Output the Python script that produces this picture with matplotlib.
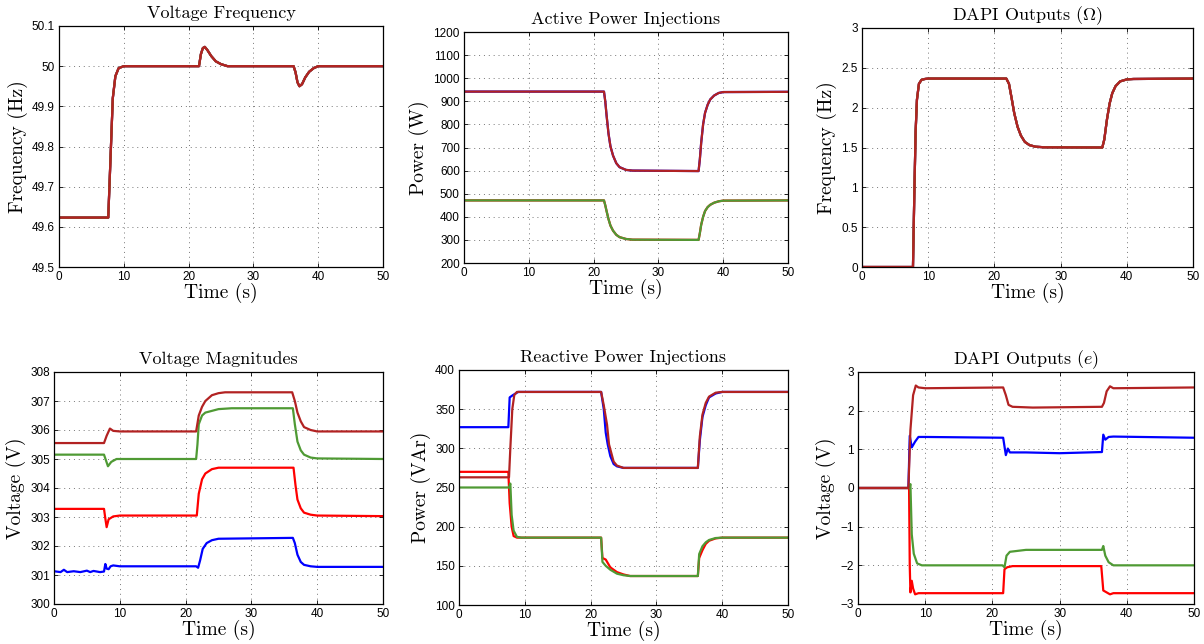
import numpy as np
import matplotlib
matplotlib.use("Agg")
import matplotlib.pyplot as plt

plt.rcParams['mathtext.fontset'] = 'cm'
plt.rcParams['axes.unicode_minus'] = True

BLUE = '#0000ff'
RED = '#ff0000'
GREEN = '#4f9a34'
DRED = '#b22222'

# ---- Voltage Frequency (all units overlap) ----
f_t = [0, 7.6, 7.9, 8.3, 8.7, 9.2, 10, 21.6, 21.9, 22.2, 22.5, 22.9, 23.5, 24.2, 25, 26, 36.2, 36.5, 36.8, 37.1, 37.5, 38, 38.6, 39.3, 40, 50]
f_v = [49.623, 49.623, 49.75, 49.92, 49.975, 49.995, 50.0, 50.0, 50.03, 50.045, 50.048, 50.04, 50.025, 50.012, 50.005, 50.0, 50.0, 49.985, 49.96, 49.95, 49.955, 49.972, 49.986, 49.995, 50.0, 50.0]

# ---- Active power ----
p_t = [0, 21.6, 21.8, 22.0, 22.3, 22.6, 23.0, 23.5, 24.0, 25.0, 26.0, 36.2, 36.4, 36.6, 36.9, 37.2, 37.6, 38.0, 38.6, 39.3, 40.0, 50]
p_hi = [942, 942, 900, 840, 760, 705, 665, 632, 615, 603, 600, 598, 650, 720, 800, 850, 885, 908, 925, 936, 940, 941]
p_lo = [471, 471, 450, 425, 390, 362, 340, 322, 312, 304, 301, 300, 330, 365, 400, 425, 442, 452, 461, 467, 470, 471]

# ---- DAPI outputs (Omega) ----
w_t = [0, 7.7, 7.9, 8.1, 8.3, 8.6, 9.0, 9.5, 10, 21.8, 22.2, 22.6, 23.0, 23.5, 24.0, 24.6, 25.3, 26.2, 27.5, 36.3, 36.6, 37.0, 37.4, 37.8, 38.3, 39.0, 40.0, 41.0, 50]
w_v = [0, 0, 0.9, 1.7, 2.1, 2.3, 2.35, 2.36, 2.365, 2.365, 2.3, 2.12, 1.93, 1.76, 1.65, 1.57, 1.53, 1.51, 1.503, 1.5, 1.6, 1.85, 2.05, 2.18, 2.27, 2.33, 2.355, 2.36, 2.365]

# ---- Voltage magnitudes ----
v1_t = [0, 1, 1.5, 2, 3, 4, 5, 5.5, 6, 7, 7.6, 7.8, 8.0, 8.3, 8.6, 9.0, 10, 21.6, 21.9, 22.2, 22.6, 23.2, 24, 25, 36.3, 36.6, 37.0, 37.5, 38, 39, 40, 50]
v1_v = [301.13, 301.1, 301.18, 301.1, 301.13, 301.1, 301.15, 301.1, 301.14, 301.1, 301.12, 301.38, 301.22, 301.2, 301.3, 301.33, 301.3, 301.3, 301.25, 301.5, 301.9, 302.1, 302.2, 302.25, 302.28, 302.1, 301.7, 301.45, 301.35, 301.3, 301.28, 301.28]
v2_t = [0, 7.6, 7.8, 8.0, 8.3, 9.0, 10, 21.7, 22.0, 22.5, 23.0, 24.0, 25.0, 36.4, 36.7, 37.0, 37.5, 38.0, 39.0, 40.0, 50]
v2_v = [303.28, 303.28, 302.95, 302.65, 302.92, 303.02, 303.05, 303.05, 303.8, 304.3, 304.5, 304.65, 304.7, 304.7, 304.1, 303.6, 303.3, 303.15, 303.08, 303.05, 303.03]
v3_t = [0, 7.6, 7.9, 8.2, 8.7, 9.5, 21.6, 21.8, 22.0, 22.5, 23.0, 25.0, 27.0, 36.3, 36.6, 37.0, 37.5, 38.0, 39.0, 40.0, 50]
v3_v = [305.15, 305.15, 304.95, 304.75, 304.9, 305.0, 305.0, 305.5, 306.2, 306.5, 306.6, 306.72, 306.75, 306.75, 306.2, 305.6, 305.3, 305.15, 305.05, 305.02, 305.0]
v4_t = [0, 7.6, 8.0, 8.5, 9.0, 10, 21.6, 22.0, 22.5, 23.0, 24.0, 25.0, 26.0, 36.2, 36.6, 37.0, 37.5, 38.0, 39.0, 40.0, 50]
v4_v = [305.55, 305.55, 305.8, 306.05, 305.97, 305.95, 305.95, 306.5, 306.8, 307.0, 307.2, 307.27, 307.3, 307.3, 307.0, 306.6, 306.3, 306.1, 306.0, 305.95, 305.95]

# ---- Reactive power ----
q1_t = [0, 7.5, 7.7, 8.2, 8.6, 9.0, 21.6, 22.0, 22.3, 22.6, 23.0, 23.5, 24.0, 25.0, 36.3, 36.6, 37.0, 37.5, 38.0, 39.0, 40.0, 50]
q1_v = [327, 327, 365, 368, 370, 372, 372, 350, 320, 305, 290, 280, 277, 275, 275, 310, 340, 355, 365, 370, 372, 372]
q4_t = [0, 7.6, 7.8, 8.1, 8.4, 8.8, 21.6, 22.0, 22.5, 22.8, 23.5, 24.0, 25.0, 36.3, 36.6, 37.0, 37.5, 38.0, 39.0, 40.0, 50]
q4_v = [263, 263, 300, 350, 368, 372, 372, 355, 330, 305, 283, 278, 275, 275, 315, 343, 358, 366, 371, 372, 372]
q2_t = [0, 7.5, 7.7, 8.0, 8.3, 8.8, 21.6, 21.8, 22.3, 23.0, 24.0, 25.0, 26.0, 36.3, 36.5, 37.0, 37.5, 38.0, 39.0, 40.0, 50]
q2_v = [270, 270, 230, 200, 188, 186, 186, 160, 158, 148, 142, 139, 137, 137, 160, 170, 178, 182, 185, 186, 186]
q3_t = [0, 7.6, 7.8, 8.0, 8.3, 8.8, 9.5, 21.6, 21.8, 22.3, 23.0, 24.0, 25.0, 26.0, 36.3, 36.5, 37.0, 37.5, 38.0, 39.0, 40.0, 50]
q3_v = [250, 250, 255, 215, 195, 187, 186, 186, 155, 150, 145, 140, 138, 137, 137, 165, 175, 180, 183, 185.5, 186, 186]

# ---- DAPI outputs (e) ----
e4_t = [0, 7.5, 7.8, 8.2, 8.6, 9.0, 10, 21.6, 22.0, 22.4, 23.0, 26.0, 36.3, 36.6, 37.0, 37.5, 38.0, 50]
e4_v = [0, 0, 1.5, 2.4, 2.65, 2.6, 2.58, 2.6, 2.4, 2.15, 2.1, 2.08, 2.1, 2.2, 2.5, 2.63, 2.58, 2.6]
e1_t = [0, 7.5, 7.7, 8.0, 8.5, 9.0, 10, 21.6, 22.0, 22.3, 22.6, 25.0, 30.0, 36.3, 36.5, 36.8, 37.3, 38.0, 50]
e1_v = [0, 0, 1.35, 1.05, 1.2, 1.32, 1.32, 1.3, 0.85, 1.02, 0.92, 0.92, 0.9, 0.93, 1.38, 1.25, 1.32, 1.33, 1.3]
e3_t = [0, 7.6, 7.8, 8.0, 8.3, 8.8, 9.5, 21.5, 21.8, 22.1, 22.6, 25.0, 36.3, 36.5, 36.8, 37.3, 38.0, 50]
e3_v = [0, 0, 0.1, -1.2, -1.7, -1.95, -2.0, -2.0, -2.05, -1.75, -1.65, -1.6, -1.6, -1.5, -1.75, -1.92, -2.0, -2.0]
e2_t = [0, 7.6, 7.7, 7.8, 8.0, 8.2, 8.5, 9.0, 21.6, 21.8, 22.2, 23.0, 36.2, 36.5, 37.0, 37.5, 38.0, 50]
e2_v = [0, 0, -2.0, -2.7, -2.4, -2.6, -2.75, -2.72, -2.72, -2.1, -2.05, -2.02, -2.02, -2.65, -2.7, -2.75, -2.72, -2.72]

W, H = 1204, 644
fig = plt.figure(figsize=(W / 100, H / 100), dpi=100)

def make_ax(l, r, t, b):
    return fig.add_axes([l / W, 1 - b / H, (r - l) / W, (b - t) / H])

lw = 1.6
title_font = dict(family='cmr10', fontsize=13)
label_font = dict(family='cmr10', fontsize=14)

def style(ax, title, ylabel, ylim, yticks, yticklabels=None):
    ax.set_xlim(0, 50)
    ax.set_ylim(*ylim)
    ax.set_xticks([0, 10, 20, 30, 40, 50])
    ax.set_yticks(yticks)
    if yticklabels is not None:
        ax.set_yticklabels(yticklabels)
    ax.grid(True, linestyle=(0, (1, 4)), color='#777777', linewidth=0.7)
    ax.tick_params(direction='in', top=True, right=True, length=3, width=0.6,
                   labelsize=8.5, pad=3)
    for lab in ax.get_xticklabels() + ax.get_yticklabels():
        lab.set_family('Liberation Sans')
    for s in ax.spines.values():
        s.set_linewidth(0.9)
    ax.set_title(title, pad=6, **title_font)
    ax.set_xlabel('Time (s)', labelpad=0, **label_font)
    ax.set_ylabel(ylabel, labelpad=3, **label_font)

# top left
ax = make_ax(59, 383, 26, 267)
ax.plot(f_t, f_v, color=BLUE, lw=lw)
ax.plot(f_t, f_v, color=RED, lw=lw)
ax.plot(f_t, f_v, color=GREEN, lw=lw)
ax.plot(f_t, f_v, color=DRED, lw=lw)
style(ax, 'Voltage Frequency', 'Frequency (Hz)', (49.5, 50.1),
      [49.5, 49.6, 49.7, 49.8, 49.9, 50.0, 50.1],
      ['49.5', '49.6', '49.7', '49.8', '49.9', '50', '50.1'])

# top middle
ax = make_ax(464, 788, 32, 263)
ax.plot(p_t, p_hi, color=BLUE, lw=lw)
ax.plot(p_t, p_lo, color=RED, lw=lw)
ax.plot(p_t, p_lo, color=GREEN, lw=lw)
ax.plot(p_t, p_hi, color=DRED, lw=lw)
style(ax, 'Active Power Injections', 'Power (W)', (200, 1200),
      list(range(200, 1201, 100)))

# top right
ax = make_ax(862, 1193, 28, 267)
ax.plot(w_t, w_v, color=BLUE, lw=lw)
ax.plot(w_t, w_v, color=RED, lw=lw)
ax.plot(w_t, w_v, color=GREEN, lw=lw)
ax.plot(w_t, w_v, color=DRED, lw=lw)
style(ax, r'DAPI Outputs ($\Omega$)', 'Frequency (Hz)', (0, 3),
      [0, 0.5, 1, 1.5, 2, 2.5, 3], ['0', '0.5', '1', '1.5', '2', '2.5', '3'])

# bottom left
ax = make_ax(54, 383, 372, 604)
ax.plot(v1_t, v1_v, color=BLUE, lw=lw)
ax.plot(v2_t, v2_v, color=RED, lw=lw)
ax.plot(v3_t, v3_v, color=GREEN, lw=lw)
ax.plot(v4_t, v4_v, color=DRED, lw=lw)
style(ax, 'Voltage Magnitudes', 'Voltage (V)', (300, 308), list(range(300, 309)))

# bottom middle
ax = make_ax(459, 788, 370, 605)
ax.plot(q1_t, q1_v, color=BLUE, lw=lw)
ax.plot(q2_t, q2_v, color=RED, lw=lw)
ax.plot(q4_t, q4_v, color=DRED, lw=lw)
ax.plot(q3_t, q3_v, color=GREEN, lw=lw)
style(ax, 'Reactive Power Injections', 'Power (VAr)', (100, 400),
      list(range(100, 401, 50)))

# bottom right
ax = make_ax(858, 1194, 372, 604)
ax.plot(e1_t, e1_v, color=BLUE, lw=lw)
ax.plot(e2_t, e2_v, color=RED, lw=lw)
ax.plot(e3_t, e3_v, color=GREEN, lw=lw)
ax.plot(e4_t, e4_v, color=DRED, lw=lw)
style(ax, r'DAPI Outputs ($e$)', 'Voltage (V)', (-3, 3), list(range(-3, 4)))

fig.savefig('out.png', dpi=100)
